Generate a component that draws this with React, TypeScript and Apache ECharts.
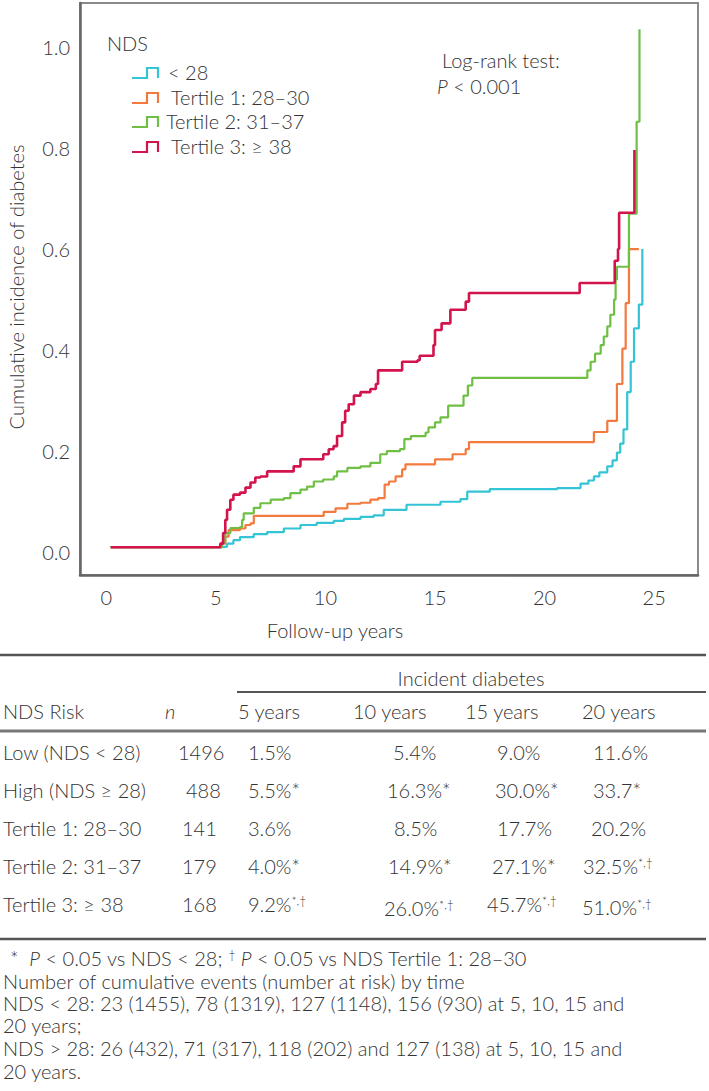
import React, { useEffect, useRef } from "react";
import * as echarts from "echarts";

// ---------- data ----------
const xTicks = [0, 5, 10, 15, 20, 25];
const yTicks = [0, 0.2, 0.4, 0.6, 0.8, 1.0];

const seriesNames = ["< 28", "Tertile 1: 28–30", "Tertile 2: 31–37", "Tertile 3: ≥ 38"];
const seriesColors = ["#33C4D5", "#F37A3E", "#70BF45", "#D3144C"];

// [follow-up years, cumulative incidence] — KM step points
const ndsBelow28 = [
  [0.2, 0.01], [5.33, 0.011], [5.51, 0.017], [5.8, 0.024], [6.1, 0.03], [6.73, 0.036],
  [7.34, 0.04], [8.1, 0.047], [8.86, 0.054], [9.6, 0.058], [10.38, 0.062], [10.84, 0.066],
  [11.6, 0.07], [12.2, 0.073], [12.66, 0.084], [13.7, 0.094], [15.25, 0.1], [16.16, 0.105],
  [16.47, 0.12], [17.5, 0.125], [20.58, 0.127], [21.64, 0.136], [22.0, 0.142], [22.25, 0.15],
  [22.5, 0.158], [22.86, 0.17], [23.1, 0.182], [23.3, 0.197], [23.45, 0.215], [23.6, 0.243],
  [23.77, 0.317], [23.93, 0.377], [24.08, 0.443], [24.3, 0.49], [24.46, 0.6],
];
const tertile1 = [
  [0.2, 0.01], [5.28, 0.017], [5.43, 0.031], [5.58, 0.044], [6.1, 0.047], [6.35, 0.054],
  [6.58, 0.057], [6.73, 0.072], [9.92, 0.08], [10.46, 0.087], [11.0, 0.096], [11.6, 0.098],
  [12.05, 0.104], [12.4, 0.107], [12.7, 0.134], [12.9, 0.14], [13.2, 0.15], [13.5, 0.164],
  [13.65, 0.174], [15.0, 0.184], [15.8, 0.194], [16.4, 0.204], [16.55, 0.218], [22.25, 0.238],
  [22.86, 0.26], [23.3, 0.333], [23.55, 0.403], [23.7, 0.493], [23.85, 0.6], [24.3, 0.6],
];
const tertile2 = [
  [0.2, 0.01], [5.28, 0.02], [5.43, 0.038], [5.66, 0.048], [6.1, 0.05], [6.2, 0.064],
  [6.27, 0.077], [6.73, 0.088], [7.03, 0.097], [7.5, 0.104], [8.1, 0.107], [8.4, 0.117],
  [8.86, 0.124], [9.16, 0.13], [9.47, 0.14], [9.9, 0.144], [10.38, 0.15], [10.53, 0.16],
  [11.0, 0.167], [11.6, 0.17], [12.05, 0.177], [12.5, 0.194], [12.8, 0.2], [13.4, 0.204],
  [13.6, 0.224], [13.9, 0.23], [14.57, 0.237], [14.7, 0.247], [15.0, 0.257], [15.25, 0.267],
  [15.6, 0.29], [16.3, 0.31], [16.5, 0.33], [16.7, 0.345], [21.95, 0.36], [22.1, 0.377],
  [22.3, 0.393], [22.56, 0.41], [22.7, 0.427], [22.86, 0.447], [23.0, 0.47], [23.17, 0.5],
  [23.24, 0.54], [23.3, 0.565], [23.85, 0.67], [24.2, 0.852], [24.33, 1.035],
];
const tertile3 = [
  [0.2, 0.01], [5.2, 0.017], [5.33, 0.038], [5.43, 0.064], [5.51, 0.084], [5.66, 0.104],
  [5.8, 0.114], [6.1, 0.118], [6.35, 0.128], [6.58, 0.138], [6.8, 0.148], [7.03, 0.15],
  [7.34, 0.16], [8.55, 0.17], [8.86, 0.184], [9.9, 0.194], [10.15, 0.204], [10.37, 0.21],
  [10.53, 0.23], [10.76, 0.257], [10.9, 0.28], [11.06, 0.293], [11.3, 0.31], [11.6, 0.317],
  [12.05, 0.323], [12.3, 0.333], [12.4, 0.36], [13.5, 0.377], [14.2, 0.38], [14.3, 0.389],
  [14.93, 0.41], [15.0, 0.44], [15.3, 0.453], [15.7, 0.48], [16.4, 0.496], [16.55, 0.513],
  [21.6, 0.533], [23.2, 0.577], [23.35, 0.6], [23.4, 0.672], [24.1, 0.796],
];
const seriesData = [ndsBelow28, tertile1, tertile2, tertile3];

// table
const tableHeaders = ["NDS Risk", "n", "5 years", "10 years", "15 years", "20 years"];
const riskGroups = ["Low (NDS < 28)", "High (NDS ≥ 28)", "Tertile 1: 28–30", "Tertile 2: 31–37", "Tertile 3: ≥ 38"];
const groupN = ["1496", "488", "141", "179", "168"];
const inc5 = ["1.5%", "5.5%*", "3.6%", "4.0%*", "9.2%"];
const inc10 = ["5.4%", "16.3%*", "8.5%", "14.9%*", "26.0%"];
const inc15 = ["9.0%", "30.0%*", "17.7%", "27.1%*", "45.7%"];
const inc20 = ["11.6%", "33.7*", "20.2%", "32.5%", "51.0%"];
const sup5 = ["", "", "", "", "*,†"];
const sup10 = ["", "", "", "", "*,†"];
const sup15 = ["", "", "", "", "*,†"];
const sup20 = ["", "", "", "*,†", "*,†"];

const footLines = [
  "Number of cumulative events (number at risk) by time",
  "NDS < 28: 23 (1455), 78 (1319), 127 (1148), 156 (930) at 5, 10, 15 and",
  "20 years;",
  "NDS > 28: 26 (432), 71 (317), 118 (202) and 127 (138) at 5, 10, 15 and",
  "20 years.",
];

// ---------- layout ----------
const FONT = "Lato, 'Open Sans', sans-serif";
const TXT = "#333";
const FS = 20;
const FW = 300;

export default function App() {
  const ref = useRef<HTMLDivElement>(null);
  useEffect(() => {
    if (!ref.current) return;
    const chart = echarts.init(ref.current, null, { renderer: "svg" });

    const g: any[] = [];
    const text = (x: number, y: number, t: string, extra: any = {}) =>
      g.push({
        type: "text",
        x,
        y,
        silent: true,
        style: { text: t, fill: TXT, fontSize: FS, fontFamily: FONT, fontWeight: FW, lineHeight: 20, verticalAlign: "middle", align: "left", ...extra },
      });
    const rich = {
      v: { fontSize: FS, fontFamily: FONT, fontWeight: FW, fill: TXT, lineHeight: 20 },
      i: { fontSize: FS, fontFamily: FONT, fontWeight: FW, fill: TXT, fontStyle: "italic", lineHeight: 20 },
      s: { fontSize: 12, fontFamily: FONT, fontWeight: FW, fill: TXT, verticalAlign: "top", lineHeight: 20 },
    };
    const rtext = (x: number, y: number, t: string) =>
      g.push({ type: "text", x, y, silent: true, style: { text: t, rich, verticalAlign: "middle", align: "left" } });
    const rule = (x1: number, x2: number, y: number, w: number, c: string) =>
      g.push({ type: "line", silent: true, shape: { x1, y1: y, x2, y2: y }, style: { stroke: c, lineWidth: w } });

    // axis titles
    g.push({
      type: "text", x: 16, y: 287, rotation: Math.PI / 2, silent: true,
      style: { text: "Cumulative incidence of diabetes", fill: TXT, fontSize: FS, fontFamily: FONT, fontWeight: FW, align: "center", verticalAlign: "middle" },
    });
    text(335, 630, "Follow-up years", { align: "center" });

    // legend
    text(107, 43, "NDS");
    const legY = [72, 97, 121, 146];
    const legX = [168, 171, 166, 171];
    seriesNames.forEach((n, i) => {
      const c = legY[i];
      g.push({
        type: "polyline", silent: true,
        shape: { points: [[132, c + 6], [147, c + 6], [147, c - 4], [158, c - 4], [158, c + 6]] },
        style: { stroke: seriesColors[i], lineWidth: 2.2, fill: null },
      });
      text(legX[i], c, n);
    });
    text(442, 60, "Log-rank test:");
    rtext(437, 86, "{i|P}{v| < 0.001}");

    // table
    rule(0, 706, 655, 2.5, "#555");
    text(471, 678, "Incident diabetes", { align: "center" });
    rule(237, 706, 692, 2, "#555");
    const hy = 711;
    text(3, hy, tableHeaders[0]);
    text(165, hy, tableHeaders[1], { fontStyle: "italic" });
    text(238, hy, tableHeaders[2]);
    text(353, hy, tableHeaders[3]);
    text(465, hy, tableHeaders[4]);
    text(582, hy, tableHeaders[5]);
    rule(0, 706, 731, 3, "#777");

    const rowY = [752, 790, 828, 866, 904];
    const nX = [178, 186, 182, 182, 182];
    const c5X = [248, 248, 248, 248, 248];
    const c10X = [393, 387, 394, 388, 384];
    const c15X = [497, 495, 497, 492, 487];
    const c20X = [593, 593, 591, 583, 582];
    riskGroups.forEach((r, i) => {
      const y = rowY[i];
      text(3, y, r);
      text(nX[i], y, groupN[i]);
      const cell = (x: number, v: string, s: string, dy = 0) =>
        s ? rtext(x, y + dy, `{v|${v}}{s|${s}}`) : text(x, y + dy, v);
      cell(c5X[i], inc5[i], sup5[i]);
      cell(c10X[i], inc10[i], sup10[i], i === 4 ? 4 : 0);
      cell(c15X[i], inc15[i], sup15[i]);
      cell(c20X[i], inc20[i], sup20[i], i === 4 ? 3 : 0);
    });
    rule(0, 706, 939, 2.5, "#555");

    rtext(10, 958, "{v|*  }{i|P}{v| < 0.05 vs NDS < 28; }{s|†}{v| }{i|P}{v| < 0.05 vs NDS Tertile 1: 28–30}");
    const fy = [981, 1003, 1025, 1048, 1071];
    footLines.forEach((l, i) => text(3, fy[i], l));

    chart.setOption({
      animation: false,
      grid: { left: 80, top: 3, width: 618, height: 572, show: true, borderColor: "#8a8a8a", borderWidth: 2, containLabel: false },
      xAxis: {
        type: "value",
        min: -1.2,
        max: 27,
        axisLine: { show: true, onZero: false, lineStyle: { color: "#666", width: 2.5 } },
        axisTick: { show: false },
        splitLine: { show: false },
        axisLabel: { customValues: xTicks, color: TXT, fontSize: FS, fontFamily: FONT, fontWeight: FW, margin: 12, formatter: (v: number) => String(v) },
      },
      yAxis: {
        type: "value",
        min: -0.045,
        max: 1.087,
        axisLine: { show: true, onZero: false, lineStyle: { color: "#666", width: 2.5 } },
        axisTick: { show: false },
        splitLine: { show: false },
        axisLabel: { customValues: yTicks, color: TXT, fontSize: FS, fontFamily: FONT, fontWeight: FW, margin: 10, formatter: (v: number) => v.toFixed(1) },
      },
      series: seriesData.map((d, i) => ({
        type: "line",
        name: seriesNames[i],
        data: d,
        step: "end",
        showSymbol: false,
        symbol: "none",
        z: 2 + i,
        lineStyle: { color: seriesColors[i], width: i === 3 ? 2.6 : 2.2 },
      })),
      graphic: g,
    });
    return () => chart.dispose();
  }, []);
  return <div ref={ref} style={{ position: "absolute", left: 0, top: 0, width: 709, height: 1091, background: "#fff" }} />;
}
